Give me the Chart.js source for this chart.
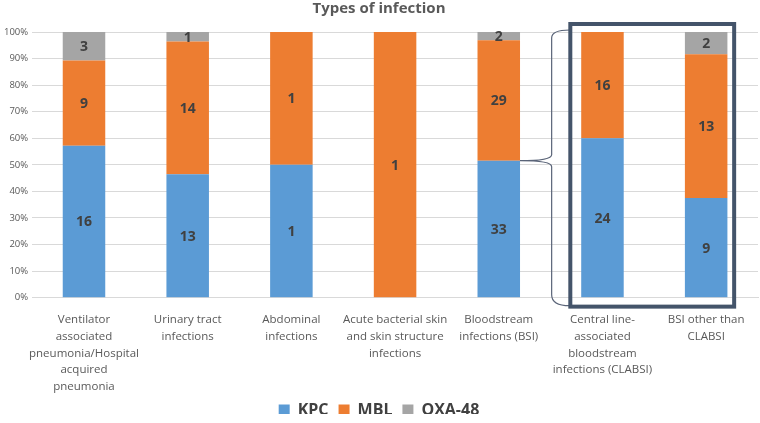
<!DOCTYPE html>
<html>
<head>
<meta charset="utf-8">
<script src="https://cdn.jsdelivr.net/npm/chart.js@4/dist/chart.umd.min.js"></script>
<style>
  html, body { margin: 0; padding: 0; background: #fff; }
  #wrap { width: 760px; height: 423px; }
</style>
</head>
<body>
<div id="wrap"><canvas id="infChart"></canvas></div>
<script>
// Types of infection - counts per carbapenemase
const categories = [
  ["Ventilator", "associated", "pneumonia/Hospital", "acquired", "pneumonia"],
  ["Urinary tract", "infections"],
  ["Abdominal", "infections"],
  ["Acute bacterial skin", "and skin structure", "infections"],
  ["Bloodstream", "infections (BSI)"],
  ["Central line-", "associated", "bloodstream", "infections (CLABSI)"],
  ["BSI other than", "CLABSI"],
];
const kpc = [16, 13, 1, 0, 33, 24, 9];
const mbl = [9, 14, 1, 1, 29, 16, 13];
const oxa48 = [3, 1, 0, 0, 2, 0, 2];
const yTicks = [0, 10, 20, 30, 40, 50, 60, 70, 80, 90, 100];

const totals = kpc.map((v, i) => v + mbl[i] + oxa48[i]);
const pct = (arr) => arr.map((v, i) => (v / totals[i]) * 100);

const textColor = "#595959";

// count labels inside each segment
const countLabels = {
  id: "countLabels",
  afterDatasetsDraw(chart) {
    const c = chart.ctx;
    c.save();
    c.font = "bold 14px 'Open Sans', sans-serif";
    c.fillStyle = "#404040";
    c.textAlign = "center";
    c.textBaseline = "middle";
    chart.data.datasets.forEach((ds, di) => {
      const meta = chart.getDatasetMeta(di);
      meta.data.forEach((bar, i) => {
        const n = ds.counts[i];
        if (!n) return;
        const mid = (bar.y + bar.base) / 2;
        c.fillText(String(n), bar.x, mid + 1);
      });
    });
    c.restore();
  },
};

// legend takes less height than chart.js gives it by default
const tightLegend = {
  id: "tightLegend",
  beforeLayout(chart) {
    const lg = chart.legend;
    if (!lg || lg._tight) return;
    const fit = lg.fit;
    lg.fit = function () {
      fit.call(this);
      this.height -= 14;
    };
    lg._tight = true;
  },
  afterLayout(chart) {
    const lg = chart.legend;
    if (!lg) return;
    lg.top -= 9;
    lg.bottom -= 9;
  },
};

// brace from BSI bar + box around the two BSI sub-bars
const bsiBox = {
  id: "bsiBox",
  afterDatasetsDraw(chart) {
    const c = chart.ctx;
    const x = chart.scales.x;
    const y = chart.scales.y;
    const step = x.getPixelForValue(1) - x.getPixelForValue(0);
    const top = y.getPixelForValue(100);
    const bot = y.getPixelForValue(0);
    const bsiKpc = chart.getDatasetMeta(0).data[4];
    const mid = bsiKpc.y;
    const xStart = bsiKpc.x + bsiKpc.width / 2;
    const xBrace = x.getPixelForValue(4) + step * 0.51;

    c.save();
    c.strokeStyle = "#5a6478";
    c.lineWidth = 1.2;
    c.beginPath();
    c.moveTo(xBrace + 18, top - 2);
    c.quadraticCurveTo(xBrace, top - 2, xBrace, top + 6);
    c.lineTo(xBrace, mid - 6);
    c.quadraticCurveTo(xBrace, mid, xStart, mid);
    c.quadraticCurveTo(xBrace, mid, xBrace, mid + 6);
    c.lineTo(xBrace, bot - 3);
    c.quadraticCurveTo(xBrace, bot + 8, xBrace + 18, bot + 8);
    c.stroke();

    c.strokeStyle = "#44546A";
    c.lineWidth = 4;
    const left = x.getPixelForValue(5) - step * 0.31;
    const right = x.getPixelForValue(6) + step * 0.27;
    c.strokeRect(left, top - 8, right - left, bot - top + 17);
    c.restore();
  },
};

const ctx = document.getElementById("infChart").getContext("2d");

const infChart = new Chart(ctx, {
  type: "bar",
  data: {
    labels: categories,
    datasets: [
      { label: "KPC", data: pct(kpc), counts: kpc, backgroundColor: "#5B9BD5" },
      { label: "MBL", data: pct(mbl), counts: mbl, backgroundColor: "#ED7D31" },
      { label: "OXA-48", data: pct(oxa48), counts: oxa48, backgroundColor: "#A5A5A5" },
    ],
  },
  options: {
    responsive: true,
    maintainAspectRatio: false,
    animation: false,
    datasets: {
      bar: { categoryPercentage: 1, barPercentage: 0.41 },
    },
    layout: { padding: { left: 0, right: 2, top: 0, bottom: 0 } },
    plugins: {
      title: {
        display: true,
        text: "Types of infection",
        color: textColor,
        font: { family: "'Open Sans', sans-serif", size: 15, weight: "bold" },
        padding: { top: 0, bottom: 14 },
      },
      legend: {
        position: "bottom",
        labels: {
          color: "#404040",
          boxWidth: 11,
          boxHeight: 11,
          padding: 10,
          font: { family: "'Open Sans', sans-serif", size: 16, weight: "bold" },
        },
      },
      tooltip: { enabled: false },
    },
    scales: {
      x: {
        stacked: true,
        grid: { display: false },
        border: { color: "#D9D9D9" },
        ticks: {
          color: textColor,
          maxRotation: 0,
          autoSkip: false,
          font: { family: "'Open Sans', sans-serif", size: 11.5, lineHeight: 1.45 },
          padding: 6,
        },
      },
      y: {
        stacked: true,
        min: 0,
        max: 100,
        afterBuildTicks: (axis) => {
          axis.ticks = yTicks.map((v) => ({ value: v }));
        },
        grid: { color: "#D9D9D9", drawTicks: false },
        border: { display: false },
        ticks: {
          color: textColor,
          padding: 4,
          font: { family: "'Open Sans', sans-serif", size: 9.5 },
          callback: (v) => v + "%",
        },
      },
    },
  },
  plugins: [countLabels, tightLegend, bsiBox],
});
</script>
</body>
</html>
